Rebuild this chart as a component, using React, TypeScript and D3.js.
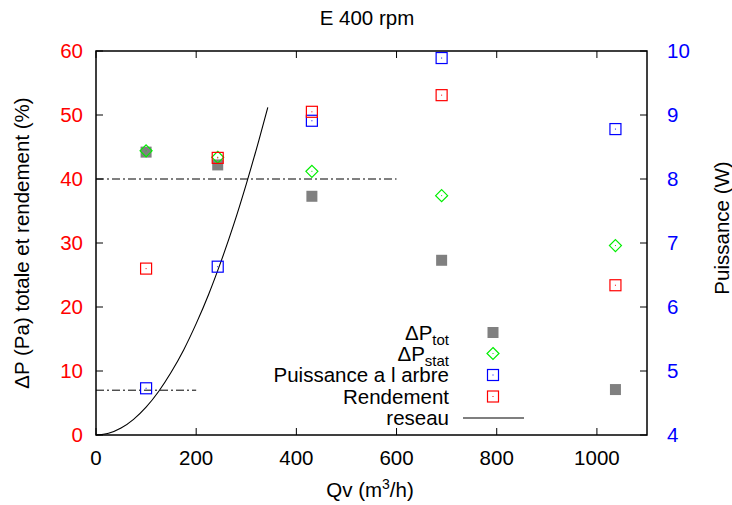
import React, { useEffect, useRef } from "react";
import * as d3 from "d3";

const qv = [100, 243, 431, 690, 1037];
const dpTot = [44.2, 42.2, 37.3, 27.3, 7.1];
const dpStat = [44.4, 43.4, 41.2, 37.4, 29.6];
const puissance = [4.73, 6.63, 8.91, 9.89, 8.78];
const rendement = [26.0, 43.3, 50.5, 53.1, 23.4];

const reseauQv = [0, 25, 50, 75, 100, 125, 150, 175, 200, 225, 250, 275, 300, 325, 343];
const reseauDp = [0, 0.27, 1.09, 2.45, 4.35, 6.8, 9.8, 13.3, 17.4, 22.0, 27.2, 32.9, 39.2, 46.0, 51.2];

const refLines = [
  { y: 40, x0: 0, x1: 600 },
  { y: 7, x0: 0, x1: 200 },
];

const xTicks = [0, 200, 400, 600, 800, 1000];
const yTicks = [0, 10, 20, 30, 40, 50, 60];
const y2Ticks = [4, 5, 6, 7, 8, 9, 10];

const W = 732;
const H = 505;
const L = 96, R = 647, T = 51, B = 435;
const FONT = "'Liberation Sans', Arial, Helvetica, sans-serif";
const FS = 20.5;

export default function App() {
  const ref = useRef<SVGSVGElement>(null);
  useEffect(() => {
    document.body.style.margin = "0";
    const svg = d3.select(ref.current);
    svg.selectAll("*").remove();
    const x = d3.scaleLinear().domain([0, 1100]).range([L, R]);
    const y = d3.scaleLinear().domain([0, 60]).range([B, T]);
    const y2 = d3.scaleLinear().domain([4, 10]).range([B, T]);

    svg.append("rect").attr("width", W).attr("height", H).attr("fill", "white");

    const g = svg.append("g");
    const tl = 7;
    xTicks.forEach((t) => {
      g.append("line").attr("x1", x(t)).attr("x2", x(t)).attr("y1", B).attr("y2", B - tl).attr("stroke", "#000").attr("stroke-width", 1);
      g.append("line").attr("x1", x(t)).attr("x2", x(t)).attr("y1", T).attr("y2", T + tl).attr("stroke", "#000").attr("stroke-width", 1);
      g.append("text").attr("x", x(t)).attr("y", B + 30).attr("text-anchor", "middle").attr("font-family", FONT).attr("font-size", FS).attr("fill", "#000").text(t);
    });
    yTicks.forEach((t) => {
      g.append("line").attr("x1", L).attr("x2", L + tl).attr("y1", y(t)).attr("y2", y(t)).attr("stroke", "#000").attr("stroke-width", 1);
      g.append("text").attr("x", 83).attr("y", y(t) + 7).attr("text-anchor", "end").attr("font-family", FONT).attr("font-size", FS).attr("fill", "#ff0000").text(t);
    });
    y2Ticks.forEach((t) => {
      g.append("line").attr("x1", R).attr("x2", R - tl).attr("y1", y2(t)).attr("y2", y2(t)).attr("stroke", "#000").attr("stroke-width", 1);
      g.append("text").attr("x", 667).attr("y", y2(t) + 7).attr("text-anchor", "start").attr("font-family", FONT).attr("font-size", FS).attr("fill", "#0000ff").text(t);
    });

    refLines.forEach((r) => {
      g.append("line").attr("x1", x(r.x0)).attr("x2", x(r.x1)).attr("y1", y(r.y)).attr("y2", y(r.y))
        .attr("stroke", "#000").attr("stroke-width", 1).attr("stroke-dasharray", "8,3,2,3");
    });

    const line = d3.line<number>().x((d, i) => x(reseauQv[i])).y((d) => y(d)).curve(d3.curveMonotoneX);
    g.append("path").attr("d", line(reseauDp)).attr("fill", "none").attr("stroke", "#000").attr("stroke-width", 1.1);

    const sq = (cx: number, cy: number, color: string) => {
      g.append("rect").attr("x", cx - 5.5).attr("y", cy - 5.5).attr("width", 11).attr("height", 11)
        .attr("fill", "none").attr("stroke", color).attr("stroke-width", 1.2);
      g.append("rect").attr("x", cx - 0.5).attr("y", cy - 0.5).attr("width", 1).attr("height", 1).attr("fill", color);
    };
    const dia = (cx: number, cy: number, color: string) => {
      g.append("path").attr("d", `M${cx},${cy - 6}L${cx + 6},${cy}L${cx},${cy + 6}L${cx - 6},${cy}Z`)
        .attr("fill", "none").attr("stroke", color).attr("stroke-width", 1.2);
      g.append("rect").attr("x", cx - 0.5).attr("y", cy - 0.5).attr("width", 1).attr("height", 1).attr("fill", color);
    };
    const fsq = (cx: number, cy: number) => {
      g.append("rect").attr("x", cx - 5.5).attr("y", cy - 5.5).attr("width", 11).attr("height", 11).attr("fill", "#808080");
    };

    qv.forEach((q, i) => fsq(x(q), y(dpTot[i])));
    qv.forEach((q, i) => dia(x(q), y(dpStat[i]), "#00ee00"));
    qv.forEach((q, i) => sq(x(q), y2(puissance[i]), "#0000ff"));
    qv.forEach((q, i) => sq(x(q), y(rendement[i]), "#ff0000"));

    const lx = 449, sx = 493;
    const rows = [332.5, 353.5, 375, 396.5, 418];
    const lt = (yy: number, main: string, sub?: string) => {
      const t = g.append("text").attr("x", lx).attr("y", yy + 7).attr("text-anchor", "end").attr("font-family", FONT).attr("font-size", FS).attr("fill", "#000");
      t.append("tspan").text(main);
      if (sub) t.append("tspan").attr("font-size", 15).attr("dy", 5).text(sub);
    };
    lt(rows[0], "ΔP", "tot");
    fsq(sx, rows[0]);
    lt(rows[1], "ΔP", "stat");
    dia(sx, rows[1], "#00ee00");
    lt(rows[2], "Puissance a l arbre");
    sq(sx, rows[2], "#0000ff");
    lt(rows[3], "Rendement");
    sq(sx, rows[3], "#ff0000");
    lt(rows[4], "reseau");
    g.append("line").attr("x1", 463).attr("x2", 524).attr("y1", rows[4]).attr("y2", rows[4]).attr("stroke", "#000").attr("stroke-width", 1.1);

    g.append("rect").attr("x", L).attr("y", T).attr("width", R - L).attr("height", B - T).attr("fill", "none").attr("stroke", "#000").attr("stroke-width", 1.5);

    svg.append("text").attr("x", 367).attr("y", 25).attr("text-anchor", "middle").attr("font-family", FONT).attr("font-size", FS).text("E 400 rpm");
    const xl = svg.append("text").attr("x", 370).attr("y", 497).attr("text-anchor", "middle").attr("font-family", FONT).attr("font-size", FS);
    xl.append("tspan").text("Qv (m");
    xl.append("tspan").attr("font-size", 14).attr("dy", -8).text("3");
    xl.append("tspan").attr("dy", 8).text("/h)");
    svg.append("text").attr("transform", `translate(29,243) rotate(-90)`).attr("text-anchor", "middle").attr("font-family", FONT).attr("font-size", FS).text("ΔP (Pa) totale et rendement (%)");
    svg.append("text").attr("transform", `translate(729,228) rotate(-90)`).attr("text-anchor", "middle").attr("font-family", FONT).attr("font-size", FS).text("Puissance (W)");
  }, []);
  return <svg ref={ref} width={W} height={H} style={{ display: "block" }} />;
}
